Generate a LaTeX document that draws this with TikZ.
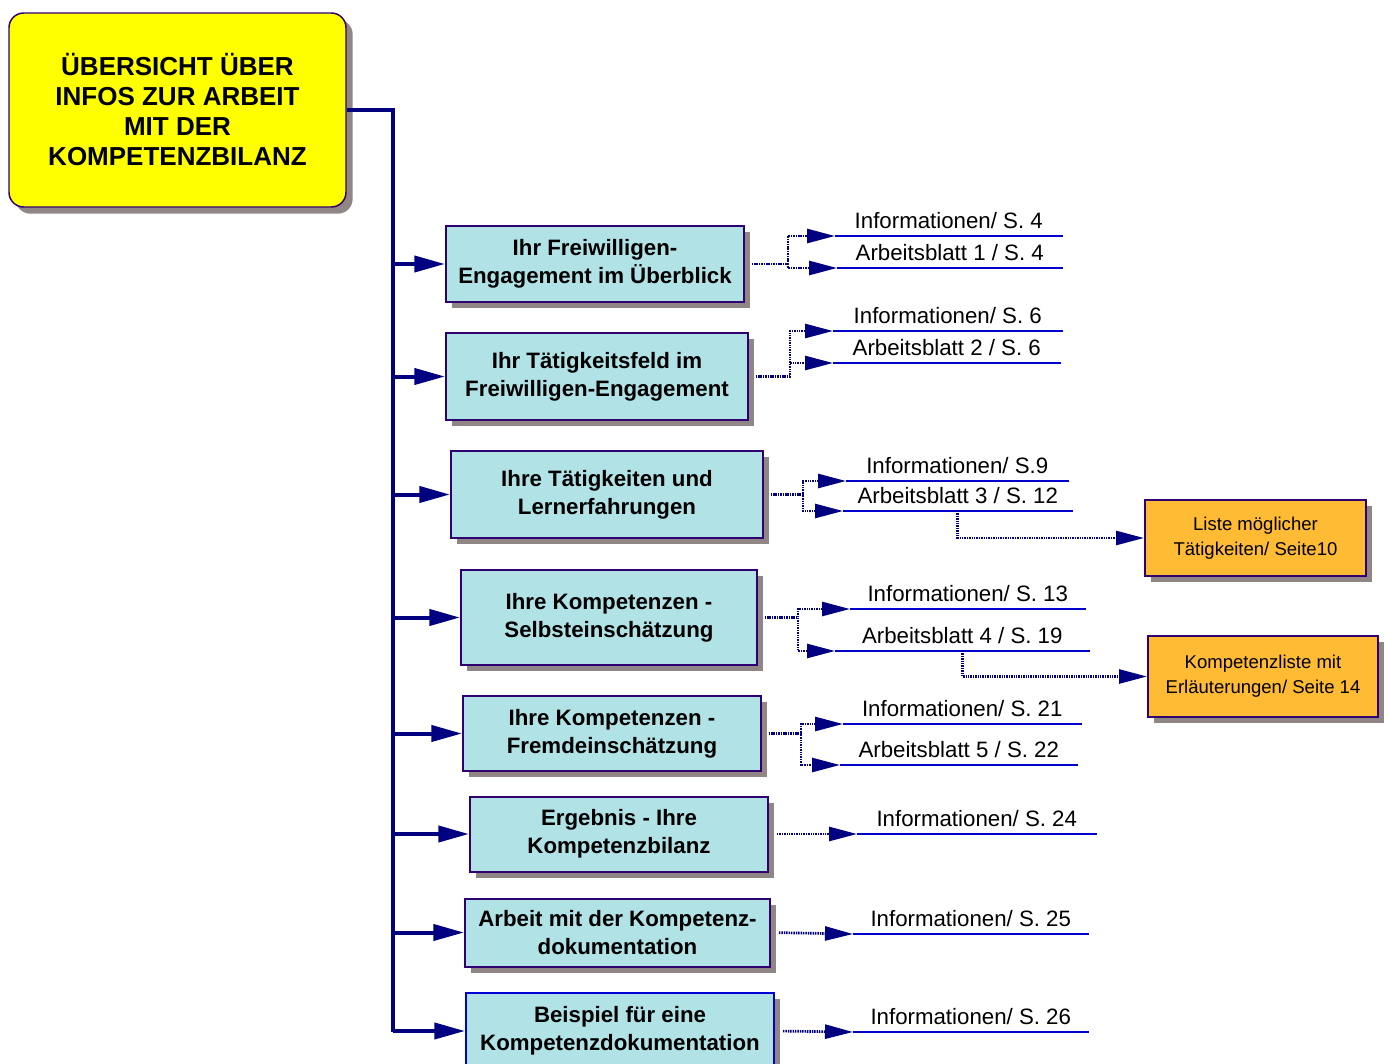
\documentclass[tikz,border=0pt]{standalone}
\usepackage{fontspec}
\setmainfont{Liberation Sans}
\usepackage{xcolor}
\definecolor{dark-navy}{RGB}{0,0,128}
\definecolor{box-edge}{RGB}{48,0,112}
\definecolor{box-blue}{RGB}{176,226,230}
\definecolor{info-blue}{RGB}{0,0,204}
\definecolor{shadow-grey}{RGB}{144,134,134}
\definecolor{title-yellow}{RGB}{255,255,0}
\definecolor{list-orange}{RGB}{255,187,51}
\usetikzlibrary{arrows.meta,shadows}

\tikzset{
	title/.style={draw=box-edge,line width=1.1pt,fill=title-yellow,rounded corners=11pt,
		align=center,inner sep=0pt,font=\fontsize{19.5}{22.5}\selectfont\bfseries,
		general shadow={fill=shadow-grey,shadow xshift=5pt,shadow yshift=-5pt}},
	topic/.style={draw=box-edge,line width=1.5pt,fill=box-blue,align=center,inner sep=0pt,
		font=\fontsize{16.7}{21}\selectfont\bfseries,
		general shadow={fill=shadow-grey,shadow xshift=4.5pt,shadow yshift=-4.5pt}},
	liste/.style={draw=box-edge,line width=1.5pt,fill=list-orange,align=center,inner sep=0pt,
		font=\fontsize{13.9}{18.75}\selectfont,
		general shadow={fill=shadow-grey,shadow xshift=4.5pt,shadow yshift=-4.5pt}},
	info/.style={anchor=south west,inner xsep=0pt,inner ysep=5.25pt,text height=12pt,
		text depth=0pt,font=\fontsize{16.7}{20}\selectfont},
	infoline/.style={info-blue,line width=1.5pt},
	trunk/.style={dark-navy,line width=3pt},
	branch/.style={trunk,-{Triangle[length=23pt,width=12pt]}},
	dotarrow/.style={dark-navy,line width=2pt,dash pattern=on 1.1pt off 0.7pt,
		-{Triangle[length=21pt,width=10.5pt]}},
}

\begin{document}
\begin{tikzpicture}[x=0.75pt,y=-0.75pt]
	\useasboundingbox (0,0) rectangle (1390,1064);
	
	\node[title,minimum width=252.75pt,minimum height=145.5pt] (uebersicht) at (177.5,110)
	{ÜBERSICHT ÜBER\\INFOS ZUR ARBEIT\\MIT DER\\KOMPETENZBILANZ};
	
	\node[topic,minimum width=223.5pt,minimum height=57pt] (b1) at (595,264)
	{Ihr Freiwilligen-\\Engagement im Überblick};
	\node[topic,minimum width=226.5pt,minimum height=65.25pt] (b2) at (597,376.5)
	{Ihr Tätigkeitsfeld im\\Freiwilligen-Engagement};
	\node[topic,minimum width=234pt,minimum height=65.25pt] (b3) at (607,494.5)
	{Ihre Tätigkeiten und\\Lernerfahrungen};
	\node[topic,minimum width=222pt,minimum height=71.25pt] (b4) at (609,617.5)
	{Ihre Kompetenzen -\\Selbsteinschätzung};
	\node[topic,minimum width=223.5pt,minimum height=56.25pt] (b5) at (612,733.5)
	{Ihre Kompetenzen -\\Fremdeinschätzung};
	\node[topic,minimum width=223.5pt,minimum height=56.25pt] (b6) at (619,834)
	{Ergebnis - Ihre\\Kompetenzbilanz};
	\node[topic,minimum width=228.75pt,minimum height=51pt] (b7) at (617.5,932.5)
	{Arbeit mit der Kompetenz-\\dokumentation};
	\node[topic,draw=blue!85!black,minimum width=231pt,minimum height=57pt] (b8) at (620,1031)
	{Beispiel für eine\\Kompetenzdokumentation};
	
	\node[liste,minimum width=165.75pt,minimum height=57pt] (o1) at (1255.5,538)
	{Liste möglicher\\Tätigkeiten/ Seite10};
	\node[liste,minimum width=172.5pt,minimum height=60.75pt] (o2) at (1263,676.5)
	{Kompetenzliste mit\\Erläuterungen/ Seite 14};
	
	% pages
	\node[info,minimum width=170.25pt] (i1) at (835,236) {Informationen/ S. 4};
	\node[info,minimum width=168.75pt] (a1) at (837,268) {Arbeitsblatt 1 / S. 4};
	\node[info,minimum width=171.75pt] (i2) at (833,331) {Informationen/ S. 6};
	\node[info,minimum width=170.25pt] (a2) at (833,363) {Arbeitsblatt 2 / S. 6};
	\node[info,minimum width=166.5pt] (i3) at (846,481) {Informationen/ S.9};
	\node[info,minimum width=171.75pt] (a3) at (843,511) {Arbeitsblatt 3 / S. 12};
	\node[info,minimum width=176.25pt] (i4) at (850,609) {Informationen/ S. 13};
	\node[info,minimum width=190.5pt] (a4) at (835,651) {Arbeitsblatt 4 / S. 19};
	\node[info,minimum width=178.5pt] (i5) at (843,724) {Informationen/ S. 21};
	\node[info,minimum width=177.75pt] (a5) at (840,765) {Arbeitsblatt 5 / S. 22};
	\node[info,minimum width=179.25pt] (i6) at (857,834) {Informationen/ S. 24};
	\node[info,minimum width=176.25pt] (i7) at (853,934) {Informationen/ S. 25};
	\node[info,minimum width=176.25pt] (i8) at (853,1032) {Informationen/ S. 26};
	
	\foreach \n in {i1,a1,i2,a2,i3,a3,i4,a4,i5,a5,i6,i7,i8}
	\draw[infoline] (\n.south west) -- (\n.south east);
	
	% main tree
	\coordinate (top) at (393,110);
	\coordinate (bottom) at (393,1032);
	\draw[trunk] (uebersicht.east) -- (top) -- (bottom);
	\foreach \b in {b1,b2,b3,b4,b5,b6,b7,b8}
	\draw[branch] (top |- \b.west) -- (\b.west);
	
	% forks
	\coordinate (f1) at (788,0);
	\coordinate (f2) at (790,0);
	\coordinate (f3) at (803,0);
	\coordinate (f4) at (798,0);
	\coordinate (f5) at (801,0);
	
	\draw[dotarrow,shorten <=5pt] (b1.east) -- (f1 |- b1.east) |- (i1.south west);
	\draw[dotarrow,shorten <=5pt] (b1.east) -- (f1 |- b1.east) |- (a1.south west);
	\draw[dotarrow,shorten <=5pt] (b2.east) -- (f2 |- b2.east) |- (i2.south west);
	\draw[dotarrow,shorten <=5pt] (b2.east) -- (f2 |- b2.east) |- (a2.south west);
	\draw[dotarrow,shorten <=5pt] (b3.east) -- (f3 |- b3.east) |- (i3.south west);
	\draw[dotarrow,shorten <=5pt] (b3.east) -- (f3 |- b3.east) |- (a3.south west);
	\draw[dotarrow,shorten <=5pt] (b4.east) -- (f4 |- b4.east) |- (i4.south west);
	\draw[dotarrow,shorten <=5pt] (b4.east) -- (f4 |- b4.east) |- (a4.south west);
	\draw[dotarrow,shorten <=5pt] (b5.east) -- (f5 |- b5.east) |- (i5.south west);
	\draw[dotarrow,shorten <=5pt] (b5.east) -- (f5 |- b5.east) |- (a5.south west);
	
	\draw[dotarrow,shorten <=6pt] (b6.east) -- (i6.south west);
	\draw[dotarrow,shorten <=6pt] (b7.east) -- (i7.south west);
	\draw[dotarrow,shorten <=6pt] (b8.east) -- (i8.south west);
	
	\draw[dotarrow] (a3.south) |- (o1.west);
	\draw[dotarrow] (a4.south) |- (o2.west);
	
\end{tikzpicture}
\end{document}
